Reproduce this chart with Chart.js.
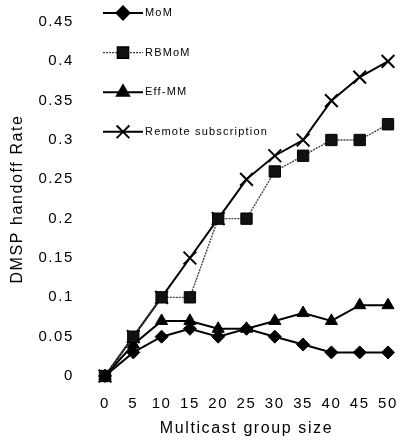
<!DOCTYPE html>
<html lang="en">
<head>
    <meta charset="UTF-8">
    <title>DMSP handoff Rate</title>
    <script src="https://cdn.jsdelivr.net/npm/chart.js@4.4.0/dist/chart.umd.min.js"></script>
    <style>
        html, body { margin: 0; padding: 0; background: #fff; }
        #wrap { width: 401px; height: 442px; }
    </style>
</head>
<body>
    <div id="wrap"><canvas id="rateChart"></canvas></div>

    <script>
        // Data
        const groupSizes = ['0', '5', '10', '15', '20', '25', '30', '35', '40', '45', '50'];
        const mom = [0, 0.03, 0.05, 0.06, 0.05, 0.06, 0.05, 0.04, 0.03, 0.03, 0.03];
        const rbmom = [0, 0.05, 0.1, 0.1, 0.2, 0.2, 0.26, 0.28, 0.3, 0.3, 0.32];
        const effMM = [0, 0.04, 0.07, 0.07, 0.06, 0.06, 0.07, 0.08, 0.07, 0.09, 0.09];
        const remoteSub = [0, 0.05, 0.1, 0.15, 0.2, 0.25, 0.28, 0.3, 0.35, 0.38, 0.4];

        const font = 'Liberation Sans, Arial, sans-serif';

        // the scanned figure has wide letter spacing everywhere
        const spacing = {
            id: 'spacing',
            beforeUpdate(chart) { chart.ctx.letterSpacing = '1.6px'; },
            beforeLayout(chart) { chart.ctx.letterSpacing = '1.6px'; },
            beforeDraw(chart) { chart.ctx.letterSpacing = '1.6px'; }
        };

        // Legend stacked in the upper left of the plot, line + marker sample
        const sideLegend = {
            id: 'sideLegend',
            afterDraw(chart) {
                const ctx = chart.ctx;
                const x0 = 103, x1 = 143;
                chart.data.datasets.forEach((ds, i) => {
                    const y = 13 + i * 39.6;
                    ctx.save();
                    ctx.strokeStyle = ds.borderColor;
                    ctx.lineWidth = ds.borderWidth;
                    ctx.setLineDash(ds.borderDash || []);
                    ctx.beginPath();
                    ctx.moveTo(x0, y);
                    ctx.lineTo(x1, y);
                    ctx.stroke();
                    ctx.setLineDash([]);
                    ctx.fillStyle = ds.backgroundColor;
                    ctx.strokeStyle = ds.pointBorderColor || ds.borderColor;
                    Chart.helpers.drawPoint(ctx, {
                        pointStyle: ds.pointStyle,
                        radius: ds.pointRadius,
                        borderWidth: ds.pointBorderWidth || 1
                    }, (x0 + x1) / 2, y);
                    ctx.fillStyle = '#000';
                    ctx.letterSpacing = '1.2px';
                    ctx.font = '11px ' + font;
                    ctx.textBaseline = 'middle';
                    ctx.fillText(ds.label, x1 + 2, y);
                    ctx.restore();
                });
            }
        };

        const ctx = document.getElementById('rateChart').getContext('2d');
        new Chart(ctx, {
            type: 'line',
            data: {
                labels: groupSizes,
                datasets: [
                    {
                        label: 'MoM', data: mom,
                        borderColor: '#000', backgroundColor: '#000', borderWidth: 2,
                        pointStyle: 'rectRot', pointRadius: 6.5, pointBorderWidth: 1
                    },
                    {
                        label: 'RBMoM', data: rbmom,
                        borderColor: '#444', backgroundColor: '#111', borderWidth: 1.4,
                        borderDash: [2, 1],
                        pointStyle: 'rect', pointRadius: 8, pointBorderWidth: 1,
                        pointBorderColor: '#000'
                    },
                    {
                        label: 'Eff-MM', data: effMM,
                        borderColor: '#000', backgroundColor: '#000', borderWidth: 2,
                        pointStyle: 'triangle', pointRadius: 7, pointBorderWidth: 1
                    },
                    {
                        label: 'Remote subscription', data: remoteSub,
                        borderColor: '#000', backgroundColor: '#000', borderWidth: 2,
                        pointStyle: 'crossRot', pointRadius: 9, pointBorderWidth: 2
                    }
                ]
            },
            options: {
                responsive: true,
                maintainAspectRatio: false,
                animation: false,
                clip: false,
                tension: 0,
                layout: { padding: { top: 22, right: 13, left: 0, bottom: 0 } },
                plugins: {
                    legend: { display: false },
                    tooltip: { enabled: false }
                },
                scales: {
                    x: {
                        offset: false,
                        grid: { display: false, drawTicks: false },
                        border: { display: false },
                        afterFit: s => { s.height = 66; s.paddingLeft = 0; s.paddingRight = 0; },
                        ticks: { color: '#000', font: { family: font, size: 15 }, padding: 19, maxRotation: 0, autoSkip: false },
                        title: { display: true, text: 'Multicast group size', color: '#000', font: { family: font, size: 16 }, padding: 4 }
                    },
                    y: {
                        min: 0,
                        max: 0.45,
                        grid: { display: false, drawTicks: false },
                        border: { display: false },
                        afterFit: s => { s.width = 105; s.paddingTop = 0; s.paddingBottom = 0; },
                        ticks: { stepSize: 0.05, color: '#000', font: { family: font, size: 15 }, padding: 31,
                                 callback: v => Number(v.toFixed(2)).toString() },
                        title: { display: true, text: 'DMSP handoff Rate', color: '#000', font: { family: font, size: 16 }, padding: 8 }
                    }
                }
            },
            plugins: [spacing, sideLegend]
        });
    </script>
</body>
</html>
